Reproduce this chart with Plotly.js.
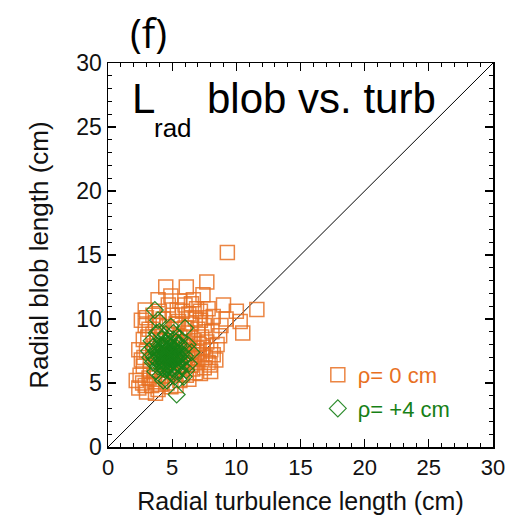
<!DOCTYPE html>
<html>
<head>
<meta charset="utf-8">
<script src="https://cdn.plot.ly/plotly-3.0.1.min.js"></script>
<style>html,body{margin:0;padding:0;background:#fff;}#chart{width:519px;height:518px;}</style>
</head>
<body>
<div id="chart"></div>
<script>
// rho = 0 cm (orange squares): radial turbulence length (x), radial blob length (y)
const rho0X = [9.3,7.7,4.5,6.1,11.6,10.0,10.5,10.3,9.0,7.4,8.2,2.9,3.9,4.7,6.0,6.65,6.3,7.8,7.2,2.75,2.6,8.2,7.95,7.2,6.1,2.2,3.0,3.65,2.75,
  3.2,3.5,4.0,4.3,5.0,5.5,5.8,6.5,6.8,7.0,7.5,7.3,6.7,6.2,5.6,5.2,4.8,4.1,3.6,3.0,2.8,3.3,3.8,4.2,4.6,5.0,5.4,5.9,6.4,6.9,7.4,7.7,7.0,6.6,6.3,5.6,4.9,3.4,2.5,2.4,3.9,4.4,5.1,5.7,6.1,6.6,7.1,7.6,8.0,8.5,8.4,8.0,7.5,6.8,4.0,4.5,5.2,5.8,3.7,4.6,5.4,6.0,6.9,7.6,8.8,9.2,8.7,3.1,2.9,3.5,4.9,5.6,3.3,2.7,3.6,4.1,5.3,5.8,6.2,4.7,5.0,4.3,3.8,6.4,7.2,8.1,6.5,4.0,3.0,5.3,2.6,2.4,3.5,4.8,5.5,6.0,7.3,7.8,
  6.7,7.0,6.2,5.9,6.5,3.2,2.9,3.7];
const rho0Y = [15.2,12.9,12.5,12.5,10.75,10.6,8.9,9.8,11.1,11.9,10.2,10.7,11.5,11.1,11.1,11.5,10.4,10.8,10.6,8.4,9.9,7.2,6.4,5.75,5.6,5.2,4.3,5.1,6.3,
  9.2,8.8,9.5,10.0,10.3,9.8,10.6,9.6,10.0,9.2,9.5,8.6,8.3,8.9,8.6,9.2,8.8,8.3,7.9,7.5,7.0,6.7,6.0,5.5,5.0,5.6,6.1,6.6,7.0,7.4,7.8,8.2,6.6,6.1,5.3,5.2,4.7,4.8,5.6,4.6,4.5,6.4,7.0,7.6,7.9,7.5,8.0,7.0,7.6,8.0,6.8,5.9,6.2,5.8,7.2,7.8,8.1,8.2,9.7,9.4,10.7,9.3,10.8,10.1,9.5,10.0,8.7,8.6,9.5,10.3,11.8,11.4,6.0,5.0,5.6,4.9,4.8,5.7,6.4,6.0,6.7,7.0,8.4,8.6,9.9,9.0,11.2,10.6,10.1,9.6,6.8,7.6,7.3,7.3,7.2,6.9,7.2,6.6,
  7.0,7.7,7.3,8.0,6.4,5.4,4.8,4.2];

// rho = +4 cm (green diamonds)
const rho4X = [3.65,3.9,6.0,5.9,5.35,4.0,4.5,5.1,5.6,3.4,3.2,3.5,3.7,4.1,4.6,5.2,5.6,6.3,6.5,6.2,3.6,3.8,4.0,4.2,4.3,4.4,4.5,4.6,4.7,4.8,4.9,5.0,5.1,5.2,5.3,5.4,5.5,5.7,5.8,4.1,4.4,4.6,4.8,5.0,4.2,4.7,5.3,3.9,3.3,5.9,6.0,4.5,4.9,5.4,3.5,4.0,4.3,4.6,5.1,5.6,4.4,4.8,5.2,3.8,4.9,6.1,5.5,4.3,
  4.1,4.3,4.5,4.7,4.9,5.1,5.3,5.5,3.9,4.2,4.4,4.6,4.8,5.0,5.2,5.4,4.0,4.3,4.6,4.9,5.2,3.7,4.1,4.5,4.8,5.0,5.3,5.7,4.2,4.7,5.1,5.5,4.4,4.9,3.8,4.6];
const rho4Y = [10.7,9.9,9.3,5.5,4.1,9.0,8.8,8.9,8.5,8.3,7.5,6.6,5.9,5.6,5.2,5.5,6.0,6.5,7.4,8.0,7.0,7.6,8.0,7.3,6.8,7.9,6.3,7.5,7.0,6.6,7.8,7.3,6.8,7.6,7.1,6.5,7.9,7.3,6.8,6.5,7.1,6.9,7.4,6.2,8.4,8.3,8.2,6.3,7.0,7.7,7.1,6.0,5.8,5.9,7.8,7.0,7.6,8.0,7.2,6.7,6.6,6.9,6.3,8.9,9.4,6.0,5.3,5.2,
  7.4,7.8,7.2,7.7,7.1,7.5,7.8,7.0,7.3,6.9,7.4,6.7,7.2,6.8,7.0,7.3,6.7,7.2,7.6,6.5,6.9,6.9,7.9,8.1,8.0,7.6,6.9,6.3,6.2,6.4,8.4,8.1,6.1,6.6,7.4,7.3];

// one-to-one reference line
const diagX = [0, 30];
const diagY = [0, 30];

const legendLabels = ['\u03c1= 0 cm', '\u03c1= +4 cm'];

const orange = 'rgb(232,112,34)';
const green = 'rgb(22,128,22)';

const traces = [
  {x: diagX, y: diagY, mode: 'lines', line: {color: '#000', width: 1}, showlegend: false, hoverinfo: 'skip'},
  {x: rho0X, y: rho0Y, mode: 'markers', name: legendLabels[0], legend: 'legend',
   marker: {symbol: 'square-open', size: 14, color: orange, opacity: 0.85, line: {width: 1.5, color: orange}}},
  {x: rho4X, y: rho4Y, mode: 'markers', name: legendLabels[1], legend: 'legend2',
   marker: {symbol: 'diamond-open', size: 13, color: green, opacity: 0.9, line: {width: 1.2, color: green}}}
];

const axisCommon = {
  range: [0, 30], tickmode: 'linear', tick0: 0, dtick: 5,
  ticks: 'inside', ticklen: 8, tickwidth: 1.2, tickcolor: '#000',
  showline: true, linecolor: '#000', linewidth: 1.5, mirror: 'allticks',
  showgrid: false, zeroline: false,
  minor: {dtick: 1, ticks: 'inside', ticklen: 4, tickwidth: 1, tickcolor: '#000', showgrid: false}
};

const layout = {
  width: 519, height: 518,
  margin: {l: 108, r: 26, t: 63, b: 71},
  paper_bgcolor: '#fff', plot_bgcolor: '#fff',
  font: {family: 'Liberation Sans, Arial, sans-serif', color: '#111'},
  xaxis: Object.assign({}, axisCommon, {
    tickfont: {size: 22, color: '#111'},
    title: {text: 'Radial turbulence length (cm)', font: {size: 25, color: '#111'}, standoff: 13}
  }),
  yaxis: Object.assign({}, axisCommon, {
    tickfont: {size: 23, color: '#111'},
    title: {text: 'Radial blob length (cm)', font: {size: 26, color: '#111'}, standoff: 20}
  }),
  legend: {x: 0.545, y: 0.1875, xanchor: 'left', yanchor: 'middle', bgcolor: 'rgba(0,0,0,0)',
    font: {size: 22, color: orange, family: 'Liberation Sans, Arial, sans-serif'}},
  legend2: {x: 0.545, y: 0.1, xanchor: 'left', yanchor: 'middle', bgcolor: 'rgba(0,0,0,0)',
    font: {size: 22, color: green, family: 'Liberation Sans, Arial, sans-serif'}},
  annotations: [
    {text: '(f)', xref: 'paper', yref: 'paper', x: 0.106, y: 1.08, xanchor: 'center', yanchor: 'middle', showarrow: false,
     font: {size: 40, color: '#000', family: 'Open Sans, sans-serif'}},
    {text: 'L', xref: 'paper', yref: 'paper', x: 0.058, y: 0.908, xanchor: 'left', yanchor: 'middle', showarrow: false,
     font: {size: 42, color: '#000'}},
    {text: 'rad', xref: 'paper', yref: 'paper', x: 0.115, y: 0.83, xanchor: 'left', yanchor: 'middle', showarrow: false,
     font: {size: 26, color: '#000'}},
    {text: 'blob vs. turb', xref: 'paper', yref: 'paper', x: 0.252, y: 0.908, xanchor: 'left', yanchor: 'middle', showarrow: false,
     font: {size: 42, color: '#000'}}
  ]
};

Plotly.newPlot('chart', traces, layout, {displayModeBar: false, staticPlot: true});
</script>
</body>
</html>
